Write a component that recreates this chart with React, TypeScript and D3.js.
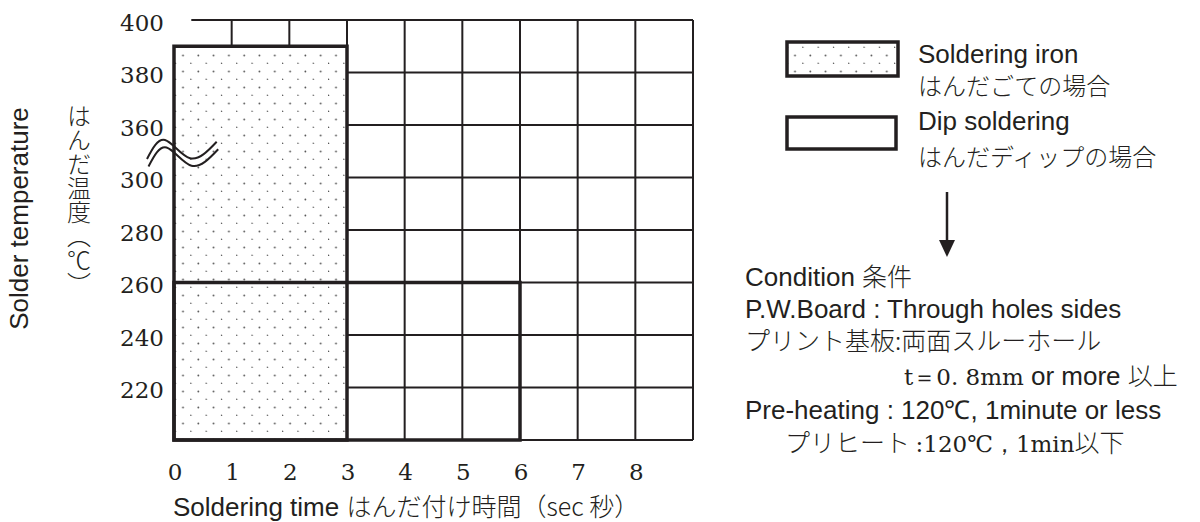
import React from 'react';
import * as d3 from 'd3';

// chart values
const timeTicks = [0, 1, 2, 3, 4, 5, 6, 7, 8];
const tempTicks = [400, 380, 360, 300, 280, 260, 240, 220];
const gridTemps = [380, 360, 300, 280, 260, 240, 220, 200];
const gridTimes = [3, 4, 5, 6, 7, 8, 9];
const tempDomain = [200, 300, 360, 400]; // axis is broken between 300 and 360
const ironTime = [0, 3];
const ironTemp = [200, 390];
const dipTime = [0, 6];
const dipTemp = [200, 260];

const INK = '#231f20';
const SANS = 'Liberation Sans, Arial, sans-serif';
const SERIF = 'DejaVu Serif, serif';
const JP = "'Noto Sans CJK JP', sans-serif";

// break mark shape, offsets from the break point on the y axis
const breakWave: [number, number][] = [
  [-27, 7.75], [-9, -11.25], [16, 7], [42.7, -9.5],
];

export default function App() {
  const x = d3.scaleLinear().domain([0, 9]).range([174, 693]);
  const y = d3.scaleLinear().domain(tempDomain).range([440, 177.5, 125, 20]);

  const wave = d3.line<[number, number]>()
    .x(d => d[0])
    .y(d => d[1])
    .curve(d3.curveNatural);
  const bx = x(0);
  const by = (y(300) + y(360)) / 2;

  return (
    <svg width={1200} height={522} style={{ position: 'absolute', left: 0, top: 0, background: '#fff' }}>
      <defs>
        <pattern id="dots" patternUnits="userSpaceOnUse" x={175} y={48} width={15.3} height={16}>
          <circle cx={8} cy={7.5} r={0.9} fill="#555" />
          <circle cx={0.35} cy={15.5} r={0.9} fill="#555" />
        </pattern>
      </defs>

      {/* thin grid */}
      <g stroke={INK} strokeWidth={2} fill="none">
        <line x1={x(0.3)} x2={x(9)} y1={y(400)} y2={y(400)} />
        {gridTemps.map(t => (
          <line key={'h' + t} x1={x(3)} x2={x(9)} y1={y(t)} y2={y(t)} />
        ))}
        {gridTimes.map(t => (
          <line key={'v' + t} x1={x(t)} x2={x(t)} y1={y(200)} y2={y(400)} />
        ))}
        {[1, 2].map(t => (
          <line key={'s' + t} x1={x(t)} x2={x(t)} y1={y(ironTemp[1])} y2={y(400)} />
        ))}
      </g>

      {/* soldering iron zone */}
      <rect x={x(ironTime[0])} y={y(ironTemp[1])}
        width={x(ironTime[1]) - x(ironTime[0])} height={y(ironTemp[0]) - y(ironTemp[1])}
        fill="#fff" />
      <rect x={x(ironTime[0])} y={y(ironTemp[1])}
        width={x(ironTime[1]) - x(ironTime[0])} height={y(ironTemp[0]) - y(ironTemp[1])}
        fill="url(#dots)" stroke={INK} strokeWidth={3.5} />
      {/* dip soldering zone */}
      <rect x={x(dipTime[0])} y={y(dipTemp[1])}
        width={x(dipTime[1]) - x(dipTime[0])} height={y(dipTemp[0]) - y(dipTemp[1])}
        fill="none" stroke={INK} strokeWidth={3.5} />

      {/* axis break */}
      <g fill="none" stroke={INK} strokeWidth={2}>
        <path d={wave(breakWave.map(p => [bx + p[0], by + p[1]]))!} />
        <path d={wave(breakWave.map(p => [bx + p[0] + 1.5, by + p[1] + 7.5]))!} />
      </g>

      {/* tick labels */}
      <g fontFamily={SERIF} fontSize={23} fill={INK}>
        {tempTicks.map(t => (
          <text key={t} x={164} y={y(t) + 10.5} textAnchor="end">{t}</text>
        ))}
        {timeTicks.map(t => (
          <text key={t} x={x(t) + 1} y={480} textAnchor="middle">{t}</text>
        ))}
      </g>

      {/* axis titles */}
      <text transform={`translate(28,${(105 + 332) / 2}) rotate(-90)`} textAnchor="middle"
        fontFamily={SANS} fontSize={26} fill={INK}>Solder temperature</text>
      <text x={79} y={104} fontFamily={JP} fontSize={24} fontWeight={300} fill={INK}
        style={{ writingMode: 'vertical-rl' } as any}>はんだ温度︵℃︶</text>
      <text x={173} y={516} fontFamily={SANS} fontSize={26} fill={INK}>
        Soldering time <tspan fontFamily={JP} fontWeight={300} fontSize={25}>はんだ付け時間（sec 秒）</tspan>
      </text>

      {/* legend */}
      <rect x={787} y={42} width={111} height={34} fill="url(#dots)" stroke={INK} strokeWidth={3.5} />
      <rect x={787} y={117} width={109} height={32} fill="none" stroke={INK} strokeWidth={3.5} />
      <g fill={INK} fontSize={26}>
        <text x={918} y={63} fontFamily={SANS}>Soldering iron</text>
        <text x={918} y={95} fontFamily={JP} fontWeight={300} fontSize={24}>はんだごての場合</text>
        <text x={918} y={130} fontFamily={SANS}>Dip soldering</text>
        <text x={918} y={166} fontFamily={JP} fontWeight={300} fontSize={24}>はんだディップの場合</text>
      </g>

      {/* arrow */}
      <line x1={947} x2={947} y1={192} y2={243} stroke={INK} strokeWidth={2.5} />
      <path d="M939,240 L955,240 L947,257 Z" fill={INK} />

      {/* conditions */}
      <g fill={INK} fontSize={26} fontFamily={SANS}>
        <text x={745} y={286}>Condition <tspan fontFamily={JP} fontWeight={300} fontSize={25}>条件</tspan></text>
        <text x={745} y={318}>P.W.Board : Through holes sides</text>
        <text x={745} y={350} fontFamily={JP} fontWeight={300} fontSize={25}>プリント基板:両面スルーホール</text>
        <text x={904} y={385}>
          <tspan fontFamily={SERIF} fontSize={23}>t＝0. 8mm</tspan> or more <tspan fontFamily={JP} fontWeight={300} fontSize={25}>以上</tspan>
        </text>
        <text x={745} y={419}>Pre-heating : 120℃, 1minute or less</text>
        <text x={785} y={452}>
          <tspan fontFamily={JP} fontWeight={300} fontSize={25}>プリヒート </tspan>
          <tspan fontFamily={SERIF} fontSize={23}>:120℃，1min</tspan>
          <tspan fontFamily={JP} fontWeight={300} fontSize={25}>以下</tspan>
        </text>
      </g>
    </svg>
  );
}
